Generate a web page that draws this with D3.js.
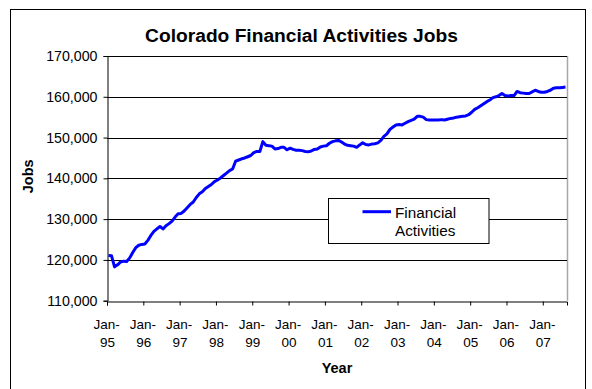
<!DOCTYPE html>
<html>
<head>
<meta charset="utf-8">
<script src="https://cdn.jsdelivr.net/npm/d3@7"></script>
<style>
  html, body { margin: 0; padding: 0; background: #fff; }
  svg { display: block; font-family: Arial, "Liberation Sans", sans-serif; }
</style>
</head>
<body>
<svg id="chart" width="592" height="389"></svg>
<script>
// Colorado financial activities employment, monthly, Jan 1995 - Aug 2007
const startYear = 1995;
const jobs = [
  121100, 121000, 118300, 118800, 119500, 119700, 119600, 120500, 121800, 123000, 123600, 123800, // 1995
  123900, 124800, 126000, 127000, 127600, 128200, 127600, 128400, 128900, 129500, 130500, 131300, // 1996
  131400, 132000, 132800, 133600, 134200, 135300, 136200, 136700, 137500, 138000, 138500, 139200, // 1997
  139600, 140100, 140700, 141300, 141900, 142300, 144200, 144500, 144800, 145000, 145300, 145600, // 1998
  146300, 146600, 146600, 149000, 148100, 148000, 147900, 147200, 147300, 147600, 147600, 147000, // 1999
  147400, 147100, 146900, 146900, 146800, 146600, 146500, 146700, 147100, 147200, 147700, 147900, // 2000
  148000, 148600, 149000, 149200, 149300, 148900, 148400, 148100, 148000, 147900, 147600, 148200, // 2001
  148700, 148300, 148200, 148400, 148500, 148700, 149300, 150300, 150900, 152000, 152600, 153100, // 2002
  153200, 153100, 153500, 153900, 154200, 154500, 155200, 155200, 155000, 154400, 154300, 154300, // 2003
  154300, 154300, 154400, 154300, 154500, 154700, 154800, 155000, 155100, 155200, 155300, 155600, // 2004
  156200, 156900, 157300, 157800, 158300, 158800, 159200, 159800, 160000, 160300, 160800, 160300, // 2005
  160200, 160300, 160300, 161300, 161000, 160900, 160800, 160800, 161200, 161600, 161300, 161100, // 2006
  161100, 161300, 161600, 162100, 162200, 162200, 162300, 162400                                  // 2007
];
const xTickLabels = ["Jan-95", "Jan-96", "Jan-97", "Jan-98", "Jan-99", "Jan-00", "Jan-01",
                     "Jan-02", "Jan-03", "Jan-04", "Jan-05", "Jan-06", "Jan-07"];
const yTicks = [110000, 120000, 130000, 140000, 150000, 160000, 170000];
const seriesName = "Financial Activities";

const svg = d3.select("#chart");
const plot = { left: 107, right: 567, top: 56, bottom: 300.7 };

// Category axis: one slot per month, points drawn at slot centres
const x = d3.scaleLinear().domain([0, jobs.length]).range([plot.left, plot.right]);
const y = d3.scaleLinear().domain([110000, 170000]).range([plot.bottom, plot.top]);

// Outer chart frame
svg.append("rect")
  .attr("x", 10.5).attr("y", 9.5).attr("width", 575).attr("height", 400)
  .attr("fill", "#fff").attr("stroke", "#000").attr("stroke-width", 1);

// Title
svg.append("text")
  .attr("x", 301.5).attr("y", 41.5)
  .attr("text-anchor", "middle")
  .attr("font-size", 19.2).attr("font-weight", "bold")
  .text("Colorado Financial Activities Jobs");

// Plot area right border (grey)
svg.append("line")
  .attr("x1", plot.right + 0.5).attr("x2", plot.right + 0.5)
  .attr("y1", plot.top).attr("y2", plot.bottom)
  .attr("stroke", "#a6a6a6").attr("stroke-width", 1.5);

// Horizontal gridlines
svg.append("g").selectAll("line")
  .data(yTicks.slice(1))
  .join("line")
  .attr("x1", plot.left).attr("x2", plot.right)
  .attr("y1", d => Math.round(y(d)) + 0.5).attr("y2", d => Math.round(y(d)) + 0.5)
  .attr("stroke", "#000").attr("stroke-width", 1);

// Y axis
const yAxis = svg.append("g")
  .attr("transform", `translate(${plot.left + 0.5},0)`)
  .call(d3.axisLeft(y).tickValues(yTicks).tickFormat(d3.format(",")).tickSize(4).tickPadding(6));
yAxis.select(".domain").attr("stroke", "#000");
yAxis.selectAll(".tick line").attr("stroke", "#000");
yAxis.selectAll(".tick text")
  .attr("font-size", 14.2).attr("fill", "#000")
  .attr("font-family", "Arial, 'Liberation Sans', sans-serif");

// X axis: tick every 12 months with two-line labels
const xTickVals = xTickLabels.map((d, i) => i * 12);
const xAxis = svg.append("g")
  .attr("transform", `translate(0,${Math.round(plot.bottom) + 0.5})`)
  .call(d3.axisBottom(x).tickValues(xTickVals).tickSize(4).tickFormat(""));
xAxis.select(".domain").attr("stroke", "#000");
xAxis.selectAll(".tick line").attr("stroke", "#000");
xAxis.selectAll(".tick").each(function (d, i) {
  const parts = xTickLabels[i].split("-");
  const t = d3.select(this).append("text")
    .attr("fill", "#000").attr("font-size", 13.5)
    .attr("font-family", "Arial, 'Liberation Sans', sans-serif")
    .attr("text-anchor", "middle");
  t.append("tspan").attr("x", -1).attr("y", 27).text(parts[0] + "-");
  t.append("tspan").attr("x", 0).attr("y", 45.5).text(parts[1]);
});

// Axis titles
svg.append("text")
  .attr("x", (plot.left + plot.right) / 2).attr("y", 373)
  .attr("text-anchor", "middle")
  .attr("font-size", 14.5).attr("font-weight", "bold")
  .text("Year");
svg.append("text")
  .attr("transform", `translate(33,${(plot.top + plot.bottom) / 2 - 2}) rotate(-90)`)
  .attr("text-anchor", "middle")
  .attr("font-size", 14.5).attr("font-weight", "bold")
  .text("Jobs");

// Series line
const line = d3.line()
  .x((d, i) => x(i + 0.5))
  .y(d => y(d));
svg.append("path")
  .datum(jobs)
  .attr("d", line)
  .attr("fill", "none")
  .attr("stroke", "#0000ff")
  .attr("stroke-width", 3)
  .attr("stroke-linejoin", "round");

// Legend
const legend = svg.append("g").attr("transform", "translate(328.5,198.5)");
legend.append("rect")
  .attr("width", 160.5).attr("height", 45)
  .attr("fill", "#fff").attr("stroke", "#000").attr("stroke-width", 1);
legend.append("line")
  .attr("x1", 34).attr("x2", 62.5).attr("y1", 13.2).attr("y2", 13.2)
  .attr("stroke", "#0000ff").attr("stroke-width", 3);
const legendWords = seriesName.split(" ");
const legendText = legend.append("text")
  .attr("font-size", 15.3).attr("fill", "#000");
legendWords.forEach((w, i) => {
  legendText.append("tspan").attr("x", 66.5).attr("y", 19 + i * 18.4).text(w);
});
</script>
</body>
</html>
